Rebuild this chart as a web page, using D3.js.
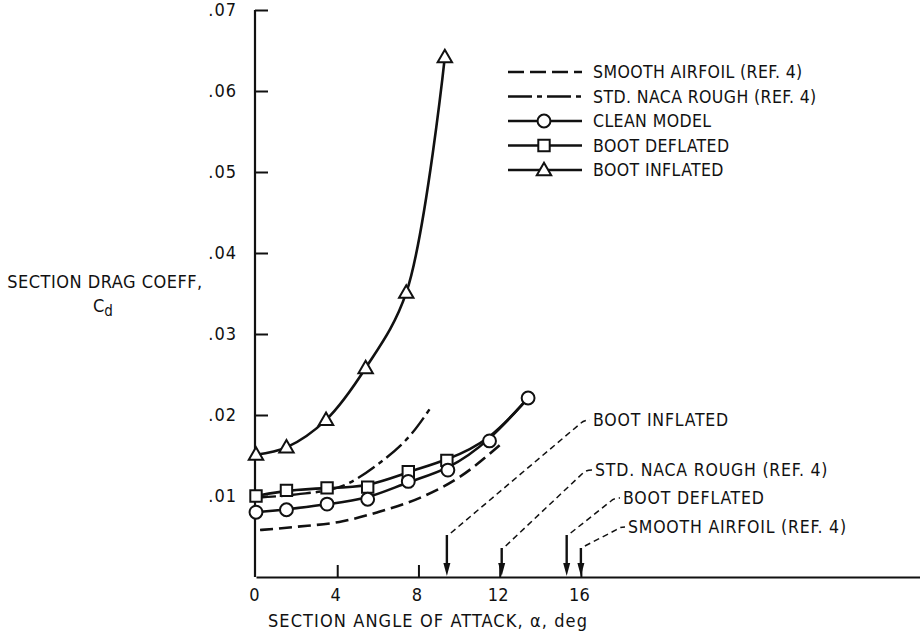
<!DOCTYPE html>
<html>
<head>
<meta charset="utf-8">
<script src="https://cdn.jsdelivr.net/npm/d3@7"></script>
<style>
  body { margin: 0; background: #fff; }
  svg text { font-family: "DejaVu Sans Condensed", "Liberation Sans Narrow", sans-serif; fill: #111; }
</style>
</head>
<body>
<div id="chart"></div>
<script>
// angle of attack (deg) and section drag coefficient
const inflatedAlpha = [0, 1.5, 3.45, 5.4, 7.4, 9.3];
const inflatedCd = [0.0151, 0.0160, 0.0194, 0.0258, 0.0351, 0.0642];
const deflatedAlpha = [0, 1.5, 3.5, 5.5, 7.5, 9.4, 11.5, 13.4];
const deflatedCd = [0.0100, 0.0107, 0.0110, 0.0111, 0.0130, 0.0144, 0.0168, 0.0221];
const cleanAlpha = [0, 1.5, 3.5, 5.5, 7.5, 9.45, 11.5, 13.4];
const cleanCd = [0.0080, 0.0083, 0.0090, 0.0096, 0.0118, 0.0132, 0.0168, 0.0221];
const smoothAlpha = [0.2, 2, 4.1, 6, 8.1, 10, 12.1];
const smoothCd = [0.0058, 0.0062, 0.0068, 0.0080, 0.0098, 0.0123, 0.0165];
const roughAlpha = [0, 2, 4.1, 6.1, 7.7, 8.6];
const roughCd = [0.0098, 0.0102, 0.0111, 0.0141, 0.0178, 0.0209];

const legendLabels = ["SMOOTH AIRFOIL (REF. 4)", "STD. NACA ROUGH (REF. 4)", "CLEAN MODEL", "BOOT DEFLATED", "BOOT INFLATED"];

// maximum-lift angle arrows
const stallLabels = ["BOOT INFLATED", "STD. NACA ROUGH (REF. 4)", "BOOT DEFLATED", "SMOOTH AIRFOIL (REF. 4)"];
const stallAlpha = [9.4, 12.1, 15.3, 16.0];
const stallLong = [true, false, true, false];

const yTicks = [0.01, 0.02, 0.03, 0.04, 0.05, 0.06, 0.07];
const xTicks = [0, 4, 8, 12, 16];

const W = 920, H = 636;
const svg = d3.select("#chart").append("svg").attr("width", W).attr("height", H);

const x = d3.scaleLinear().domain([0, 32.7]).range([256, 920]);
const y = d3.scaleLinear().domain([0, 0.07]).range([577, 10]);

const zip = (a, b) => a.map((v, i) => [v, b[i]]);

// axes
svg.append("g")
    .attr("transform", `translate(${x(0) - 1},0)`)
    .call(d3.axisLeft(y).tickValues(yTicks).tickSizeInner(-13).tickSizeOuter(0).tickPadding(18)
        .tickFormat(d => d3.format(".2f")(d).replace(/^0/, "")))
    .call(g => g.select(".domain").attr("stroke", "#111").attr("stroke-width", 2.2).attr("d", `M0,${y(0)}V${y(0.07)}`))
    .call(g => g.selectAll(".tick line").attr("stroke", "#111").attr("stroke-width", 2))
    .call(g => g.selectAll(".tick text").attr("font-size", 18).attr("font-family", null).attr("letter-spacing", 1));

svg.append("g")
    .attr("transform", `translate(0,${y(0)})`)
    .call(d3.axisBottom(x).tickValues(xTicks).tickSizeInner(-12).tickSizeOuter(0).tickPadding(11)
        .tickFormat(d3.format("d")))
    .call(g => g.select(".domain").attr("stroke", "#111").attr("stroke-width", 2.2))
    .call(g => g.selectAll(".tick line").attr("stroke", "#111").attr("stroke-width", 2))
    .call(g => g.selectAll(".tick").filter(d => d === 0).select("line").remove())
    .call(g => g.selectAll(".tick text").attr("font-size", 18).attr("font-family", null).attr("dx", -2));

// axis titles
svg.append("text").attr("x", 105).attr("y", 288).attr("text-anchor", "middle")
    .attr("font-size", 18).attr("letter-spacing", 0.5).text("SECTION DRAG COEFF,");
const cd = svg.append("text").attr("x", 103).attr("y", 312).attr("text-anchor", "middle").attr("font-size", 18);
cd.append("tspan").text("C");
cd.append("tspan").attr("dy", 4).attr("font-size", 15).text("d");

svg.append("text").attr("x", 428).attr("y", 627).attr("text-anchor", "middle")
    .attr("font-size", 18).attr("letter-spacing", 1.1).text("SECTION ANGLE OF ATTACK, \u03b1, deg");

const line = curve => d3.line().x(d => x(d[0])).y(d => y(d[1])).curve(curve);

// reference curves
svg.append("path").datum(zip(smoothAlpha, smoothCd))
    .attr("d", line(d3.curveMonotoneX)).attr("fill", "none")
    .attr("stroke", "#111").attr("stroke-width", 2.6).attr("stroke-dasharray", "13,6");
svg.append("path").datum(zip(roughAlpha, roughCd))
    .attr("d", line(d3.curveMonotoneX)).attr("fill", "none")
    .attr("stroke", "#111").attr("stroke-width", 2.4).attr("stroke-dasharray", "20,5,5,5");

// measured curves
const series = [
    { a: deflatedAlpha, c: deflatedCd, mark: "square", curve: d3.curveBasis },
    { a: cleanAlpha, c: cleanCd, mark: "circle", curve: d3.curveBasis },
    { a: inflatedAlpha, c: inflatedCd, mark: "triangle", curve: d3.curveCatmullRom.alpha(0.5) }
];

const symbols = { circle: d3.symbolCircle, square: d3.symbolSquare, triangle: d3.symbolTriangle };
const symSize = { circle: 130, square: 130, triangle: 90 };

series.forEach(s => {
    svg.append("path").datum(zip(s.a, s.c))
        .attr("d", line(s.curve)).attr("fill", "none")
        .attr("stroke", "#111").attr("stroke-width", 2.6);
});

// points shared by the clean and deflated runs are plotted once, as circles
const cleanKeys = new Set(zip(cleanAlpha, cleanCd).map(d => d.join()));
series.forEach(s => {
    let pts = zip(s.a, s.c);
    if (s.mark === "square") pts = pts.filter(d => !cleanKeys.has(d.join()));
    svg.append("g").selectAll("path").data(pts).join("path")
        .attr("transform", d => `translate(${x(d[0])},${y(d[1]) + (s.mark === "triangle" ? 1 : 0)})`)
        .attr("d", d3.symbol(symbols[s.mark], symSize[s.mark]))
        .attr("fill", "#fff").attr("stroke", "#111").attr("stroke-width", 2);
});

// legend
const lg = svg.append("g").attr("transform", "translate(508,72)");
const rowH = 24.5;
legendLabels.forEach((lab, i) => {
    const r = lg.append("g").attr("transform", `translate(0,${i * rowH})`);
    const ln = r.append("line").attr("x1", 0).attr("x2", 74).attr("y1", 0).attr("y2", 0)
        .attr("stroke", "#111").attr("stroke-width", 2.6);
    if (i === 0) ln.attr("stroke-dasharray", "16,6");
    if (i === 1) ln.attr("stroke-dasharray", "24,5,5,5");
    if (i >= 2) {
        const m = ["circle", "square", "triangle"][i - 2];
        r.append("path").attr("transform", `translate(36,${m === "triangle" ? 1 : 0})`)
            .attr("d", d3.symbol(symbols[m], symSize[m]))
            .attr("fill", "#fff").attr("stroke", "#111").attr("stroke-width", 2);
    }
    r.append("text").attr("x", 85).attr("y", 0).attr("dy", "0.36em")
        .attr("font-size", 17.5).attr("letter-spacing", 0.4).text(lab);
});

// stall arrows with dashed leaders
const labelPos = [[593, 420], [595, 470], [623, 498], [628, 527]];
stallAlpha.forEach((a, i) => {
    const top = stallLong[i] ? 535 : 548;
    const xa = x(a);
    svg.append("line").attr("x1", xa).attr("x2", xa).attr("y1", top).attr("y2", y(0) - 8)
        .attr("stroke", "#111").attr("stroke-width", 2.4);
    svg.append("path").attr("d", `M${xa - 3.5},${y(0) - 14}L${xa + 3.5},${y(0) - 14}L${xa},${y(0) - 1}Z`)
        .attr("fill", "#111");
    const [lx, ly] = labelPos[i];
    svg.append("path")
        .attr("d", `M${xa + 4},${top - 2}L${lx - 12},${ly + 3}Q${lx - 9},${ly} ${lx - 3},${ly}`)
        .attr("fill", "none").attr("stroke", "#111").attr("stroke-width", 1.5)
        .attr("stroke-dasharray", "6,4");
    svg.append("text").attr("x", lx).attr("y", ly).attr("dy", "0.36em")
        .attr("font-size", 17.5).attr("letter-spacing", 0.8).text(stallLabels[i]);
});
</script>
</body>
</html>
